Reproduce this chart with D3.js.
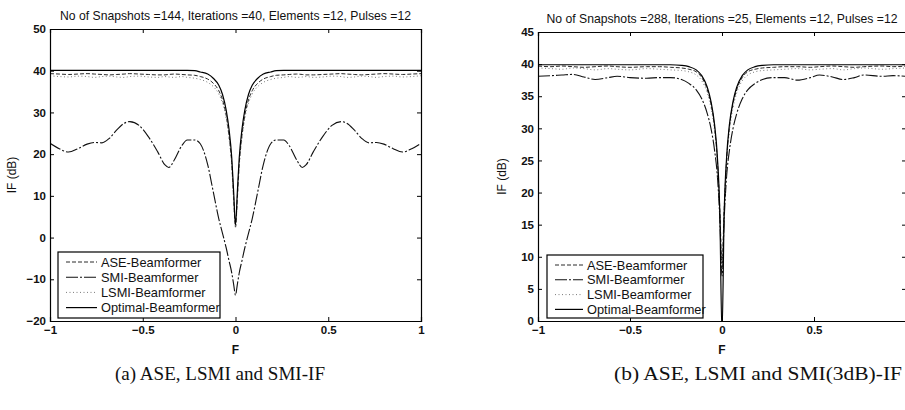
<!DOCTYPE html>
<html><head><meta charset="utf-8">
<script src="https://cdn.jsdelivr.net/npm/d3@7"></script>
<style>body{margin:0;background:#fff}svg{display:block}</style>
</head><body>
<svg id="c" width="905" height="410"></svg>
<script>
// ---------- data ----------
const seriesNames = ["ASE-Beamformer", "SMI-Beamformer", "LSMI-Beamformer", "Optimal-Beamformer"];
const titleA = "No of Snapshots =144, Iterations =40, Elements =12, Pulses =12";
const titleB = "No of Snapshots =288, Iterations =25, Elements =12, Pulses =12";
const captionA = "(a) ASE, LSMI and SMI-IF";
const captionB = "(b) ASE, LSMI and SMI(3dB)-IF";
const xLabel = "F";
const yLabel = "IF (dB)";
const xTicks = [-1, -0.5, 0, 0.5, 1];
const xTickLabelsA = ["\u22121", "\u22120.5", "0", "0.5", "1"];
const xTickLabelsB = ["\u22121", "\u22120.5", "0", "0.5", ""]; // "1" lies beyond the picture edge
const yTicksA = [-20, -10, 0, 10, 20, 30, 40, 50];
const yTicksB = [0, 5, 10, 15, 20, 25, 30, 35, 40, 45];

// panel (a)
const fA = [-1, -0.95, -0.9, -0.85, -0.8, -0.76, -0.72, -0.68, -0.64, -0.6, -0.57, -0.52, -0.47, -0.42, -0.38, -0.36, -0.33, -0.29, -0.26, -0.22, -0.19, -0.15, -0.12, -0.09, -0.07, -0.05, -0.035, -0.02, -0.01, 0,
  0.01, 0.02, 0.035, 0.05, 0.07, 0.09, 0.12, 0.15, 0.19, 0.22, 0.26, 0.29, 0.33, 0.36, 0.38, 0.42, 0.47, 0.52, 0.57, 0.6, 0.64, 0.68, 0.72, 0.76, 0.8, 0.85, 0.9, 0.95, 1];
const aseA = [39.3, 39.2, 39.1, 39.2, 39.3, 39.2, 39.1, 39.0, 39.1, 39.2, 39.3, 39.2, 39.1, 39.0, 39.0, 39.1, 39.2, 39.1, 39.0, 38.9, 38.6, 38.0, 37.0, 35.2, 33.0, 29.2, 24.5, 17.5, 9.5, 2.5,
  9.5, 17.5, 24.5, 29.2, 33.0, 35.2, 37.0, 38.0, 38.6, 38.9, 39.0, 39.1, 39.2, 39.1, 39.0, 39.0, 39.1, 39.2, 39.3, 39.2, 39.1, 39.0, 39.1, 39.2, 39.3, 39.2, 39.1, 39.2, 39.3];
const smiA = [22.6, 21.3, 20.5, 21.3, 22.4, 22.8, 22.7, 23.8, 25.8, 27.4, 27.8, 26.9, 24.2, 20.6, 17.4, 16.8, 18.6, 22.0, 23.4, 23.4, 22.5, 17.5, 11.0, 4.5, 1.0, -2.5, -5.5, -8.5, -11.2, -13.8,
  -11.2, -8.5, -5.5, -2.5, 1.0, 4.5, 11.0, 17.5, 22.5, 23.4, 23.4, 22.0, 18.6, 16.8, 17.4, 20.6, 24.2, 26.9, 27.8, 27.4, 25.8, 23.8, 22.7, 22.8, 22.4, 21.3, 20.5, 21.3, 22.6];
const lsmiA = [38.8, 38.6, 38.5, 38.7, 38.6, 38.4, 38.6, 38.7, 38.5, 38.4, 38.6, 38.7, 38.5, 38.4, 38.6, 38.5, 38.4, 38.6, 38.4, 38.2, 37.9, 37.2, 36.2, 34.4, 32.2, 28.5, 23.8, 17.0, 9.0, 2.5,
  9.0, 17.0, 23.8, 28.5, 32.2, 34.4, 36.2, 37.2, 37.9, 38.2, 38.4, 38.6, 38.4, 38.5, 38.6, 38.4, 38.5, 38.7, 38.6, 38.4, 38.5, 38.7, 38.6, 38.4, 38.6, 38.7, 38.5, 38.6, 38.8];
const optA = [40.1, 40.1, 40.1, 40.1, 40.1, 40.1, 40.1, 40.1, 40.1, 40.1, 40.1, 40.1, 40.1, 40.1, 40.1, 40.1, 40.1, 40.1, 40.1, 40.0, 39.7, 39.2, 38.2, 36.5, 34.3, 30.5, 26.0, 19.0, 11.0, 3.0,
  11.0, 19.0, 26.0, 30.5, 34.3, 36.5, 38.2, 39.2, 39.7, 40.0, 40.1, 40.1, 40.1, 40.1, 40.1, 40.1, 40.1, 40.1, 40.1, 40.1, 40.1, 40.1, 40.1, 40.1, 40.1, 40.1, 40.1, 40.1, 40.1];

// panel (b)
const fB = [-1, -0.93, -0.87, -0.81, -0.75, -0.69, -0.62, -0.57, -0.5, -0.41, -0.34, -0.28, -0.22, -0.18, -0.14, -0.11, -0.08, -0.06, -0.04, -0.025, -0.012, 0,
  0.012, 0.025, 0.04, 0.06, 0.08, 0.11, 0.14, 0.18, 0.22, 0.28, 0.34, 0.41, 0.48, 0.53, 0.6, 0.66, 0.72, 0.77, 0.87, 0.93, 1];
const aseB = [39.7, 39.6, 39.7, 39.6, 39.5, 39.6, 39.7, 39.6, 39.5, 39.6, 39.6, 39.5, 39.4, 39.2, 38.8, 37.9, 36.0, 33.8, 30.0, 25.0, 17.5, 9.0,
  17.5, 25.0, 30.0, 33.8, 36.0, 37.9, 38.8, 39.2, 39.4, 39.5, 39.6, 39.6, 39.5, 39.6, 39.7, 39.6, 39.5, 39.6, 39.7, 39.6, 39.7];
const smiB = [38.1, 38.2, 38.3, 38.4, 38.0, 37.6, 37.9, 38.1, 37.9, 37.8, 37.9, 37.9, 37.6, 37.0, 36.0, 34.6, 32.3, 30.0, 26.5, 22.5, 16.0, 7.0,
  16.0, 22.5, 26.5, 30.0, 32.3, 34.6, 36.0, 37.0, 37.6, 37.9, 37.9, 37.5, 37.9, 38.3, 38.0, 37.6, 37.9, 38.3, 38.1, 38.2, 38.1];
const lsmiB = [39.4, 39.3, 39.2, 39.4, 39.3, 39.1, 39.3, 39.2, 39.1, 39.3, 39.2, 39.1, 39.0, 38.8, 38.3, 37.4, 35.5, 33.2, 29.5, 24.5, 16.5, 8.0,
  16.5, 24.5, 29.5, 33.2, 35.5, 37.4, 38.3, 38.8, 39.0, 39.1, 39.2, 39.3, 39.1, 39.2, 39.3, 39.1, 39.3, 39.4, 39.2, 39.3, 39.4];
const optB = [39.9, 39.9, 39.9, 39.9, 39.9, 39.9, 39.9, 39.9, 39.9, 39.9, 39.9, 39.9, 39.8, 39.6, 39.1, 38.2, 36.4, 34.2, 30.5, 25.5, 17.0, -2.0,
  17.0, 25.5, 30.5, 34.2, 36.4, 38.2, 39.1, 39.6, 39.8, 39.9, 39.9, 39.9, 39.9, 39.9, 39.9, 39.9, 39.9, 39.9, 39.9, 39.9, 39.9];

// ---------- drawing ----------
const styles = [
  {stroke: "#2a2a2a", dash: "4,2", width: 1},
  {stroke: "#111", dash: "12,2,2,2", width: 1.1},
  {stroke: "#7a7a7a", dash: "1,2.5", width: 1},
  {stroke: "#000", dash: null, width: 1.2}
];

const svg = d3.select("#c");
const FONT = "'Liberation Sans', Arial, Helvetica, sans-serif";

function panel(cfg) {
  const x = d3.scaleLinear().domain([-1, 1]).range([cfg.x0, cfg.x1]);
  const y = d3.scaleLinear().domain(cfg.yDomain).range([cfg.y1, cfg.y0]);
  const g = svg.append("g");
  const clipId = "clip" + cfg.id;
  g.append("clipPath").attr("id", clipId).append("rect")
    .attr("x", cfg.x0).attr("y", cfg.y0).attr("width", cfg.x1 - cfg.x0).attr("height", cfg.y1 - cfg.y0);

  const line = d3.line().x(d => x(d[0])).y(d => y(d[1])).curve(d3.curveMonotoneX);
  const plot = g.append("g").attr("clip-path", `url(#${clipId})`);
  cfg.series.forEach((vals, i) => {
    const st = styles[i];
    plot.append("path").datum(cfg.f.map((f, k) => [f, vals[k]]))
      .attr("d", line).attr("fill", "none")
      .attr("stroke", st.stroke).attr("stroke-width", st.width)
      .attr("stroke-dasharray", st.dash);
  });

  // axes (MATLAB box style, inward ticks)
  const tl = 4;
  const axB = g.append("g").attr("transform", `translate(0,${cfg.y1})`)
    .call(d3.axisBottom(x).tickValues(xTicks).tickSize(-tl).tickPadding(5)
      .tickFormat((d, i) => cfg.xTickLabels[i]));
  const axT = g.append("g").attr("transform", `translate(0,${cfg.y0})`)
    .call(d3.axisTop(x).tickValues(xTicks).tickSize(-tl).tickFormat(""));
  const axL = g.append("g").attr("transform", `translate(${cfg.x0},0)`)
    .call(d3.axisLeft(y).tickValues(cfg.yTicks).tickSize(-tl).tickPadding(4)
      .tickFormat(d => d < 0 ? "\u2212" + Math.abs(d) : d));
  const axR = g.append("g").attr("transform", `translate(${cfg.x1},0)`)
    .call(d3.axisRight(y).tickValues(cfg.yTicks).tickSize(-tl).tickFormat(""));
  [axB, axT, axL, axR].forEach(a => {
    a.select(".domain").attr("stroke", "#000").attr("stroke-width", 1.2);
    a.selectAll(".tick line").attr("stroke", "#000");
    a.selectAll("text").attr("font-family", FONT).attr("font-size", 11.5)
      .attr("font-weight", "bold").attr("fill", "#111");
  });

  // title
  g.append("text").attr("x", (cfg.x0 + cfg.x1) / 2).attr("y", cfg.y0 - 9)
    .attr("text-anchor", "middle").attr("font-family", FONT).attr("font-size", 12.2)
    .attr("fill", "#111").text(cfg.title);
  // axis labels
  g.append("text").attr("x", (cfg.x0 + cfg.x1) / 2).attr("y", cfg.y1 + 33)
    .attr("text-anchor", "middle").attr("font-family", FONT).attr("font-size", 12)
    .attr("font-weight", "bold").attr("fill", "#111").text(xLabel);
  g.append("text").attr("transform", `translate(${cfg.ylabX},${(cfg.y0 + cfg.y1) / 2}) rotate(-90)`)
    .attr("text-anchor", "middle").attr("font-family", FONT).attr("font-size", 12)
    .attr("fill", "#111").text(yLabel);

  // legend
  const L = cfg.legend;
  g.append("rect").attr("x", L.x).attr("y", L.y).attr("width", L.w).attr("height", L.h)
    .attr("fill", "#fff").attr("stroke", "#000").attr("stroke-width", 1.2);
  seriesNames.forEach((name, i) => {
    const yy = L.y + L.pad + i * L.step;
    const st = styles[i];
    g.append("line").attr("x1", L.x + 8).attr("x2", L.x + 8 + L.len)
      .attr("y1", yy).attr("y2", yy).attr("stroke", st.stroke)
      .attr("stroke-width", st.width).attr("stroke-dasharray", st.dash);
    g.append("text").attr("x", L.x + 12 + L.len).attr("y", yy + 4.5)
      .attr("font-family", FONT).attr("font-size", 12.8).attr("fill", "#111").text(name);
  });

  // caption
  const cap = g.append("text").attr("x", cfg.capX).attr("y", 380)
    .attr("font-family", "'Liberation Serif', 'DejaVu Serif', serif").attr("font-size", 19.5)
    .attr("fill", "#111").text(cfg.caption);
  if (cfg.capLen) cap.attr("textLength", cfg.capLen).attr("lengthAdjust", "spacingAndGlyphs");
}

panel({id: "A", x0: 50, x1: 421, y0: 29, y1: 321, yDomain: [-20, 50], yTicks: yTicksA, xTickLabels: xTickLabelsA,
  f: fA, series: [aseA, smiA, lsmiA, optA], title: titleA, caption: captionA, capX: 115, capLen: 210, ylabX: 16,
  legend: {x: 58, y: 252, w: 162, h: 66, pad: 10, step: 15.2, len: 31}});
panel({id: "B", x0: 538, x1: 906, y0: 32, y1: 321, yDomain: [0, 45], yTicks: yTicksB, xTickLabels: xTickLabelsB,
  f: fB, series: [aseB, smiB, lsmiB, optB], title: titleB, caption: captionB, capX: 614, capLen: 288, ylabX: 506,
  legend: {x: 547, y: 255, w: 156, h: 63, pad: 10, step: 14.8, len: 28}});
</script>
</body></html>
